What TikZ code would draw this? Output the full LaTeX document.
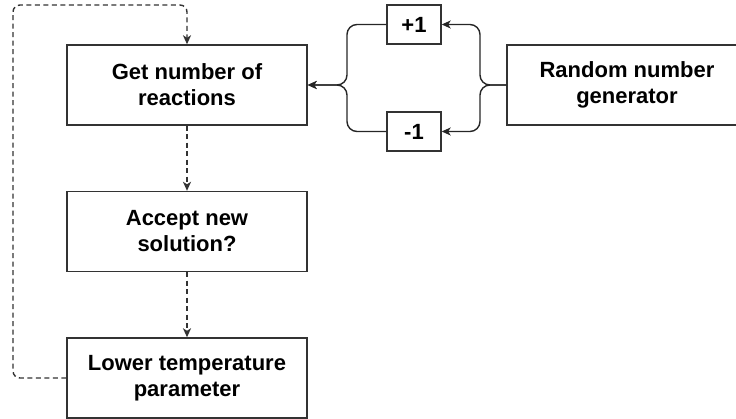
\documentclass[tikz,border=0pt]{standalone}
\usepackage{fontspec}
\setmainfont{Liberation Sans}
\usetikzlibrary{arrows.meta}
\begin{document}
\begin{tikzpicture}[x=1pt,y=-1pt,
  box/.style={draw=black!80, line width=1.4pt, fill=white, minimum width=240pt, minimum height=80pt,
    align=center, inner sep=0pt, font=\bfseries\fontsize{22}{26}\selectfont},
  small/.style={draw=black!80, line width=1.4pt, fill=white, minimum width=54pt, minimum height=39pt,
    inner sep=0pt, font=\bfseries\fontsize{22}{26}\selectfont},
  link/.style={draw=black!85, line width=1.4pt, rounded corners=10pt, -{Stealth[length=9pt,width=8pt,inset=2.5pt]}},
  dlink/.style={draw=black!80, line width=1.4pt, dash pattern=on 5pt off 3.5pt, -{Stealth[length=9pt,width=8pt,inset=2.5pt]}}
]
\useasboundingbox (0,0) rectangle (736,419);
\node[box] (b1) at (187,85) {Get number of\\reactions};
\node[box] (b2) at (187,231.5) {Accept new\\solution?};
\node[box] (b3) at (187,378) {Lower temperature\\parameter};
\node[box] (rng) at (627,85) {Random number\\generator};
\node[small] (p1) at (414,24.5) {+1};
\node[small] (m1) at (414,131.5) {-1};

\coordinate (jl) at (347,85);
\coordinate (jr) at (480,85);
\coordinate (lc) at (13,5);

\draw[link] (rng.west) -- (jr) |- (p1.east);
\draw[link] (rng.west) -- (jr) |- (m1.east);
\draw[link] (p1.west) -| (jl) -- (b1.east);
\draw[link] (m1.west) -| (jl) -- (b1.east);

\draw[dlink] (b1.south) -- (b2.north);
\draw[dlink] (b2.south) -- (b3.north);
\draw[dlink, rounded corners=7pt] (b3.west) -| (lc) -| (b1.north);
\end{tikzpicture}
\end{document}
